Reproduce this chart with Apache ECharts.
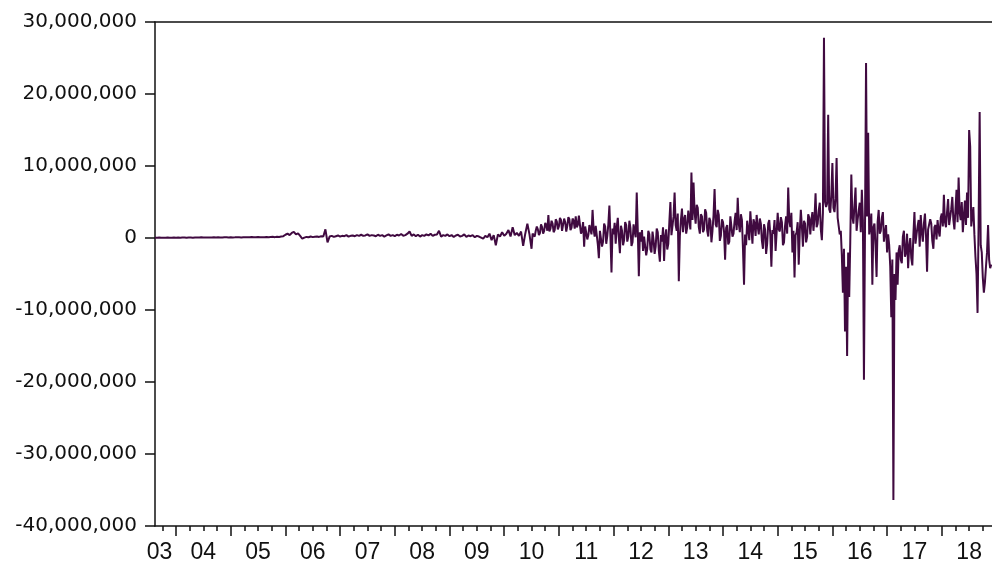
<!DOCTYPE html>
<html>
<head>
<meta charset="utf-8">
<script src="https://cdn.jsdelivr.net/npm/echarts@6/dist/echarts.min.js"></script>
<style>
  html, body { margin: 0; padding: 0; background: #ffffff; }
  #chart { width: 992px; height: 567px; }
</style>
</head>
<body>
<div id="chart"></div>
<script>
// Axis span in years
const startYear = 2003.616;
const endYear = 2018.918;

// Quiet period, Aug 2003 to mid 2010: one value every 1/26 year (millions)
const earlyStep = 1 / 26;
const earlyMillions = [
  0.05,0.04,0.06,0.05,0.03,0.05,0.06,0.04,0.05,0.07,0.05,0.06,0.04,0.06,0.08,0.05,0.07,0.06,0.05,0.08,0.06,0.07,0.09,0.06,0.08,0.07,
  0.08,0.06,0.09,0.07,0.1,0.08,0.06,0.09,0.11,0.08,0.1,0.07,0.09,0.12,0.1,0.08,0.11,0.09,0.12,0.1,0.13,0.11,0.09,0.14,0.12,0.1,
  0.12,0.15,0.1,0.13,0.16,0.12,0.18,0.14,0.2,0.25,0.45,0.6,0.4,0.7,0.85,0.5,0.65,0.3,-0.1,0.05,0.15,0.1,0.2,0.12,0.18,0.22,
  0.15,0.25,0.2,1.2,-0.6,0.2,0.3,0.15,0.25,0.35,0.2,0.3,0.25,0.4,0.2,0.3,0.35,0.25,0.4,0.3,0.45,0.3,0.35,0.5,0.3,0.4,
  0.35,0.25,0.45,0.3,0.4,0.2,0.35,0.5,0.3,0.4,0.25,0.45,0.35,0.55,0.3,0.4,0.6,0.9,0.3,0.5,0.25,0.45,0.2,0.4,0.3,0.5,
  0.35,0.6,0.3,0.45,0.5,1.0,0.2,0.4,0.3,0.5,0.25,0.4,0.15,0.35,0.45,0.2,0.3,0.5,0.15,0.35,0.25,0.4,0.1,0.3,0.2,0.05,
  -0.1,0.3,0.1,0.6,-0.3,0.4,-1.0,0.5,0.2,0.8,0.3,0.6,1.1,0.2,1.5,0.4,0.7,0.3,0.9,-1.1,0.6,2.0,0.5
];

// Volatile period, mid 2010 to late 2018: one value every 1/52 year (millions)
const lateStart = 2010.5;
const lateStep = 1 / 52;
const lateMillions = [
  -1.5,0.6, 0.8,0.2, 1.0,1.6, 1.2,0.4, 0.7,1.9, 1.5,0.6, 1.0,2.1, 1.8,1.0, 3.2,0.9, 1.3,2.4, 2.0,0.8, 1.1,2.6, 2.3,1.2,
  1.6,2.8, 2.5,1.0, 1.2,2.7, 2.2,0.9, 1.7,2.9, 2.6,1.1, 1.4,2.7, 2.4,1.3, 3.0,1.5, 1.8,3.1, 2.9,0.6, 1.0,2.2, -1.2,1.6,
  1.5,-0.2, 0.4,1.8, 2.0,0.5, 3.9,1.2, 0.2,1.7, 1.5,-0.9, -2.8,1.0, 0.8,-1.2, -0.5,2.0, 1.6,-0.8, 0.3,1.9,
  4.5,0.2, -4.8,1.3, 0.5,2.1, -0.8,1.5, 2.8,0.0, -2.1,1.7, 1.0,-1.0, -0.3,2.2, 1.8,-0.5, 0.2,2.4, 1.4,-1.1, -0.6,1.9,
  0.9,0.1, 6.3,1.0, -5.3,0.8, -0.5,1.1, -1.8,0.2, 0.4,-2.4, -1.5,1.0, 0.5,-1.6, -2.0,0.9, -0.3,-2.2, -1.2,1.3, 0.8,-1.8,
  -3.3,0.4, -0.5,1.5, -3.2,0.2, 1.2,-1.6, -0.8,2.2, 5.0,0.4, 0.5,3.0, 6.3,1.8, 1.0,3.4, -6.0,0.3, 2.5,4.1, 0.8,2.6,
  3.2,0.6, 1.5,3.8, 4.0,1.2, 9.1,2.5, 7.7,3.6, 2.0,4.6, 4.2,1.5, 0.6,3.3, 3.0,0.8, 1.2,4.0, 3.5,1.0, 0.2,2.8,
  2.4,-0.6, 1.0,3.1, 6.8,1.9, 1.5,3.9, 3.2,-0.4, 0.3,2.6, 2.2,0.9, -3.0,1.4, 1.8,-0.9, -0.5,3.0, 2.8,0.2, 0.6,2.3,
  3.5,1.1, 5.6,2.0, 0.8,3.3, 2.5,-1.5, -6.5,0.5, -1.0,2.4, 1.2,-0.3, 3.7,1.4, -0.8,2.6, 2.0,0.3, 3.2,1.6, 0.5,2.7,
  2.0,-0.4, -1.5,1.9, 1.2,-2.2, -0.8,2.0, 2.5,0.4, -4.0,1.1, 0.6,2.5, -1.8,0.8, 3.5,1.2, 0.9,2.9, 2.2,-1.0, -0.6,1.7,
  3.0,0.6, 7.0,2.4, 1.5,3.5, -2.0,1.0, -5.5,0.4, 0.8,2.2, -3.7,0.9, 3.9,1.6, -1.2,2.4, 2.0,-0.6, 0.2,3.3, 2.8,0.5,
  2.5,3.6, 1.0,2.8, 6.2,1.5, 2.0,3.8, 4.9,1.2, -0.3,3.5, 27.8,5.0, 4.3,4.8, 17.1,4.0, 3.5,6.0, 10.4,4.2, 3.6,5.5, 11.1,2.8,
  3.0,0.5, 1.0,-2.5, -7.6,-1.5, -13.0,-4.0, -16.4,-2.0, -8.2,-0.5, 8.8,3.0, 2.0,4.5, 7.0,1.0, 2.5,3.8, 4.9,0.8, 6.7,2.5, -19.7,1.2,
  24.3,3.0, 14.6,0.5, 1.6,3.4, -6.5,1.5, 2.0,-1.0, -5.4,2.2, 3.9,0.6, 1.0,2.8, 3.6,-0.5, 0.7,1.8, -2.0,0.5, -1.0,-4.0, -11.0,-3.0,
  -36.4,-5.0, -8.6,-2.0, -6.5,-1.8, -1.0,-3.0, -3.5,0.2, 1.0,-2.6, -2.0,0.6, -4.2,-1.2, 0.0,-2.8, -3.8,0.4, 3.6,-0.8, 0.5,1.6, 2.5,-1.2,
  3.2,0.8, -0.5,2.0, 3.4,0.3, -4.7,1.2, 1.0,2.6, 2.0,-0.4, -1.5,1.5, 1.8,-0.2, 2.5,1.0, 0.2,2.8, 3.4,1.6, 6.0,2.2, 1.5,3.6,
  5.4,1.8, 2.0,4.0, 5.7,2.5, 1.2,3.9, 6.7,2.2, 8.4,3.5, 2.5,5.0, 0.8,3.0, 5.2,1.8, 6.3,2.8, 15.0,12.7, 1.6,3.0, 4.3,0.5,
  -2.6,-5.0, -10.4,2.0, 17.5,-1.0, -2.0,-5.5, -7.6,-6.2, -4.0,-2.0, 1.8,-3.0, -4.2,-3.7
];

// Year labels and where they sit on the time axis
const yearLabels = ['03','04','05','06','07','08','09','10','11','12','13','14','15','16','17','18'];
const labelPositions = [2003.7,2004.5,2005.5,2006.5,2007.5,2008.5,2009.5,2010.5,2011.5,2012.5,2013.5,2014.5,2015.5,2016.5,2017.5,2018.5];

// Year boundaries (long ticks) and quarter marks (short ticks)
const yearTicks = [];
for (let y = 2004; y <= 2018; y++) yearTicks.push(y);
const quarterTicks = [];
for (let y = 2003; y <= 2018; y++) {
  [0.25, 0.5, 0.75].forEach(q => {
    const t = y + q;
    if (t > startYear && t < endYear) quarterTicks.push(t);
  });
}

const seriesData = earlyMillions.map((v, i) => [startYear + i * earlyStep, v * 1e6])
  .concat(lateMillions.map((v, j) => [lateStart + j * lateStep, v * 1e6]));

const axisColor = '#111111';
const chart = echarts.init(document.getElementById('chart'), null, { renderer: 'canvas' });

chart.setOption({
  animation: false,
  backgroundColor: '#ffffff',
  grid: { left: 155, top: 22, right: 0, bottom: 41, containLabel: false },
  xAxis: [
    {
      type: 'value', min: startYear, max: endYear, position: 'bottom',
      axisLine: { show: true, onZero: false, lineStyle: { color: axisColor, width: 1.5 } },
      axisTick: { show: true, inside: false, length: 10, customValues: yearTicks,
                  lineStyle: { color: axisColor, width: 1.5 } },
      axisLabel: {
        show: true, customValues: labelPositions, margin: 15,
        fontFamily: 'Liberation Sans, Arial, sans-serif', fontSize: 23, color: '#111111',
        formatter: function (val) {
          let best = 0;
          for (let k = 1; k < labelPositions.length; k++) {
            if (Math.abs(labelPositions[k] - val) < Math.abs(labelPositions[best] - val)) best = k;
          }
          return yearLabels[best];
        }
      },
      splitLine: { show: false }
    },
    {
      type: 'value', min: startYear, max: endYear, position: 'bottom',
      axisLine: { show: false, onZero: false },
      axisTick: { show: true, inside: false, length: 5, customValues: quarterTicks,
                  lineStyle: { color: axisColor, width: 1.5 } },
      axisLabel: { show: false },
      splitLine: { show: false }
    },
    {
      type: 'value', min: startYear, max: endYear, position: 'top',
      axisLine: { show: true, onZero: false, lineStyle: { color: axisColor, width: 1.5 } },
      axisTick: { show: false },
      axisLabel: { show: false },
      splitLine: { show: false }
    }
  ],
  yAxis: {
    type: 'value', min: -40000000, max: 30000000, interval: 10000000,
    axisLine: { show: true, onZero: false, lineStyle: { color: axisColor, width: 1.5 } },
    axisTick: { show: true, inside: false, length: 10, lineStyle: { color: axisColor, width: 1.5 } },
    axisLabel: {
      margin: 18, fontFamily: 'DejaVu Sans, sans-serif', fontSize: 20, color: '#111111',
      formatter: v => v.toLocaleString('en-US')
    },
    splitLine: { show: false }
  },
  series: [{
    type: 'line',
    xAxisIndex: 0,
    data: seriesData,
    showSymbol: false,
    symbol: 'none',
    sampling: null,
    lineStyle: { color: '#400a40', width: 2 },
    emphasis: { disabled: true }
  }]
});
</script>
</body>
</html>
